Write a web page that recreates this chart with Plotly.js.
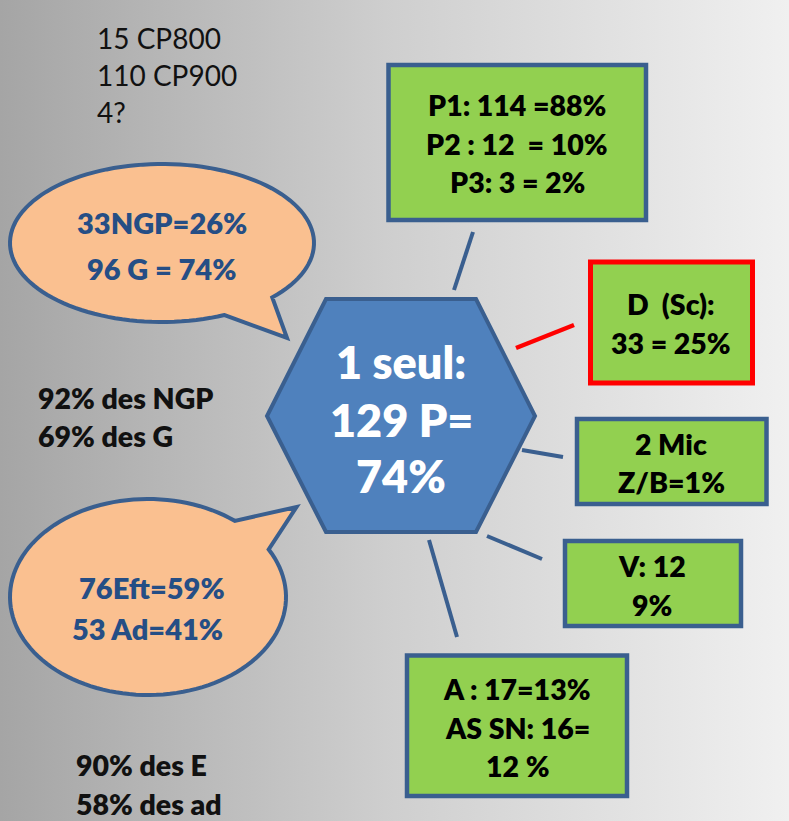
<!DOCTYPE html>
<html>
<head>
<meta charset="utf-8">
<script src="https://cdn.plot.ly/plotly-3.0.1.min.js"></script>
<style>html,body{margin:0;padding:0;background:#fff;}#chart{width:789px;height:821px;}</style>
</head>
<body>
<div id="chart"></div>
<script>
// ---- content (values / texts) ----
var topNotes = ["15 CP800", "110 CP900", "4?"];
var centerLines = ["1 seul:", "129 P=", "74%"];
var bubbleTop = ["33NGP=26%", "96 G = 74%"];
var bubbleBottom = ["76Eft=59%", "53 Ad=41%"];
var sideTop = ["92% des NGP", "69% des G"];
var sideBottom = ["90% des E", "58% des ad"];
var boxP = ["P1: 114 =88%", "P2 : 12  = 10%", "P3: 3 = 2%"];
var boxD = ["D  (Sc):", "33 = 25%"];
var boxMic = ["2 Mic", "Z/B=1%"];
var boxV = ["V: 12", "9%"];
var boxA = ["A : 17=13%", "AS SN: 16=", "12 %"];

// ---- styling ----
var W = 789, H = 821;
var FONT = "Lato, 'Open Sans', sans-serif";
var GREEN = "#92d050", BLUE_BORDER = "#3a5f8f", HEX_FILL = "#4f81bd";
var PEACH = "#fac090", TEXT_BLUE = "#254e85";

var annotations = [];
function addLines(lines, x, ys, opts) {
  lines.forEach(function (t, i) {
    annotations.push({
      xref: "x", yref: "y", x: Array.isArray(x) ? x[i] : x, y: ys[i],
      text: t, showarrow: false,
      xanchor: opts.xanchor || "center", yanchor: "middle",
      font: { family: FONT, size: opts.size, color: opts.color, weight: opts.weight || "normal" }
    });
  });
}

addLines(topNotes, 95, [38, 75, 112], { size: 28, color: "#111", xanchor: "left" });
addLines(centerLines, 401, [362, 420, 476], { size: 45, color: "#ffffff", weight: 800 });
addLines(bubbleTop, [162, 161], [222, 268], { size: 29, color: TEXT_BLUE, weight: 800 });
addLines(bubbleBottom, [152, 147], [587, 628], { size: 29, color: TEXT_BLUE, weight: 800 });
addLines(sideTop, 36, [398, 436], { size: 28.5, color: "#111", weight: 800, xanchor: "left" });
addLines(sideBottom, 74, [765, 804], { size: 28.5, color: "#111", weight: 800, xanchor: "left" });
addLines(boxP, 517, [105, 144, 182], { size: 28.5, color: "#000", weight: 800 });
addLines(boxD, 671, [304, 343], { size: 28.5, color: "#000", weight: 800 });
addLines(boxMic, 671, [444, 482], { size: 28.5, color: "#000", weight: 800 });
addLines(boxV, 652, [566, 605], { size: 28.5, color: "#000", weight: 800 });
addLines(boxA, 517, [689, 728, 766], { size: 28.5, color: "#000", weight: 800 });

function rect(x0, y0, x1, y1, fill, border, w) {
  return { type: "rect", xref: "x", yref: "y", x0: x0, y0: y0, x1: x1, y1: y1,
    fillcolor: fill, line: { color: border, width: w } };
}
function seg(x0, y0, x1, y1, color, w) {
  return { type: "line", xref: "x", yref: "y", x0: x0, y0: y0, x1: x1, y1: y1,
    line: { color: color, width: w } };
}
function bubblePath(cx, cy, rx, ry, a0, a1, tip) {
  var d = "", n = 120;
  for (var i = 0; i <= n; i++) {
    var a = (a0 + (a1 - a0) * i / n) * Math.PI / 180;
    var px = cx + rx * Math.cos(a), py = cy + ry * Math.sin(a);
    d += (i === 0 ? "M" : "L") + px.toFixed(2) + "," + py.toFixed(2);
  }
  d += "L" + tip[0] + "," + tip[1] + "Z";
  return d;
}

var shapes = [
  // connectors
  seg(473, 232, 454, 290, BLUE_BORDER, 4),
  seg(574, 325, 516, 348, "#ff0000", 4.5),
  seg(522, 450, 563, 457, BLUE_BORDER, 4),
  seg(487, 536, 542, 559, BLUE_BORDER, 4),
  seg(429, 540, 457, 637, BLUE_BORDER, 4),
  // speech bubbles
  { type: "path", xref: "x", yref: "y", path: bubblePath(162, 243, 152, 79, 65.7, 403.5, [287, 338]),
    fillcolor: PEACH, line: { color: BLUE_BORDER, width: 4 } },
  { type: "path", xref: "x", yref: "y", path: bubblePath(148, 597, 138, 98, -29, 309, [296.5, 507]),
    fillcolor: PEACH, line: { color: BLUE_BORDER, width: 4 } },
  // hexagon
  { type: "path", xref: "x", yref: "y",
    path: "M326,299L476,299L535,416L476,532L326,532L267,416Z",
    fillcolor: HEX_FILL, line: { color: BLUE_BORDER, width: 4 } },
  // boxes
  rect(388.5, 65, 646, 220, GREEN, BLUE_BORDER, 4.5),
  rect(590.5, 262, 752.5, 383, GREEN, "#ff0000", 5),
  rect(577, 419, 766.5, 504, GREEN, BLUE_BORDER, 4.5),
  rect(565, 541, 741, 626, GREEN, BLUE_BORDER, 4.5),
  rect(407, 655.5, 627, 796, GREEN, BLUE_BORDER, 4.5)
];

// background gradient panel
var bg = {
  type: "scatter", mode: "none", x: [0, W, W, 0, 0], y: [0, 0, H, H, 0],
  fill: "toself", hoverinfo: "skip", showlegend: false,
  fillgradient: { type: "horizontal", colorscale: [[0, "#a5a5a5"], [0.5, "#cfcfcf"], [1, "#f0f0f0"]] }
};

var layout = {
  width: W, height: H, margin: { l: 0, r: 0, t: 0, b: 0 },
  paper_bgcolor: "#ffffff", plot_bgcolor: "#ffffff", showlegend: false,
  xaxis: { range: [0, W], visible: false, fixedrange: true },
  yaxis: { range: [H, 0], visible: false, fixedrange: true },
  shapes: shapes, annotations: annotations
};

Plotly.newPlot("chart", [bg], layout, { staticPlot: true });
</script>
</body>
</html>
